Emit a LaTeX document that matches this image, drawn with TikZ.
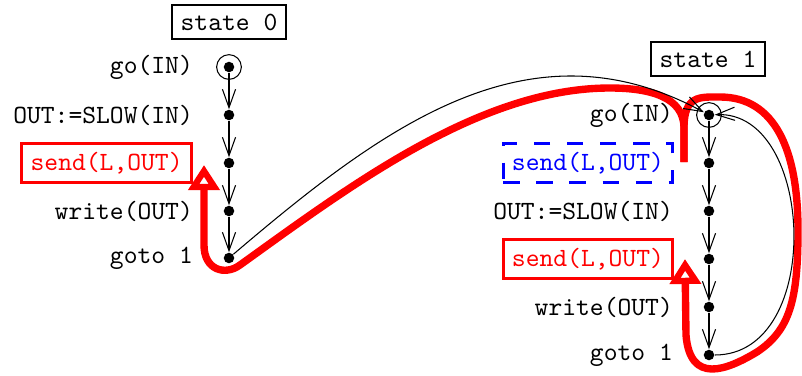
\documentclass[tikz,border=0pt]{standalone}
\usetikzlibrary{arrows.meta,positioning}
\begin{document}
\begin{tikzpicture}[x=0.38pt, y=-0.38pt, font=\ttfamily, >={Straight Barb[length=7pt,width=5pt]},
  pt/.style={circle, fill=black, inner sep=0pt, minimum size=4pt},
  statebox/.style={draw, thick},
  sendbox/.style={draw=red, very thick, text=red},
  movebox/.style={draw=blue, very thick, text=blue, dash pattern=on 6.3pt off 6.3pt},
  trace/.style={red, line width=2.8pt, -{Triangle[open, length=9.5pt, width=11.5pt]}}]
\useasboundingbox (0,0) rectangle (802,376);
% state 0
\node[statebox] (s0) at (229,22) {state 0};
\foreach \y [count=\i from 0] in {67,115,163,211,258} \node[pt] (a\i) at (229,\y) {};
\node[left=8pt of a0] (la0) {go(IN)};
\node[left=8pt of a1] (la1) {OUT:=SLOW(IN)};
\node[sendbox, left=11.5pt of a2] (la2) {send(L,OUT)};
\node[left=8pt of a3] (la3) {write(OUT)};
\node[left=8pt of a4] (la4) {goto 1};
% state 1
\node[statebox] (s1) at (708,59) {state 1};
\foreach \y [count=\i from 0] in {115,163,211,259,307,355} \node[pt] (b\i) at (709,\y) {};
\node[left=8pt of b0] (lb0) {go(IN)};
\node[movebox, left=11pt of b1] (lb1) {send(L,OUT)};
\node[left=8pt of b2] (lb2) {OUT:=SLOW(IN)};
\node[sendbox, left=11pt of b3] (lb3) {send(L,OUT)};
\node[left=8pt of b4] (lb4) {write(OUT)};
\node[left=8pt of b5] (lb5) {goto 1};
% red traces
\coordinate (m) at (684,162);
\coordinate (h0) at (204,165);
\coordinate (h1) at (685,259);
\draw[trace] (m) -- (684,128) .. controls (684,97) and (650,88) .. (610,88)
  .. controls (480,88) and (350,186) .. (240,265)
  .. controls (225,276) and (204,270) .. (204,245) -- (h0);
\draw[trace] (m) -- (684,128) .. controls (684,95) and (700,97) .. (720,97)
  .. controls (775,97) and (798,150) .. (798,230)
  .. controls (798,300) and (790,330) .. (757,352)
  .. controls (727,370) and (690,385) .. (686,335) -- (h1);
% control flow
\draw (a0) circle[radius=4.7pt];
\draw (b0) circle[radius=4.7pt];
\foreach \i/\j in {0/1,1/2,2/3,3/4} \draw[->] (a\i) -- (a\j);
\foreach \i/\j in {0/1,1/2,2/3,3/4,4/5} \draw[->] (b\i) -- (b\j);
\draw[->] (a4) .. controls (385,125) and (530,18) .. (b0);
\draw[->] (b5) .. controls (825,355) and (815,110) .. (b0);
\end{tikzpicture}
\end{document}
